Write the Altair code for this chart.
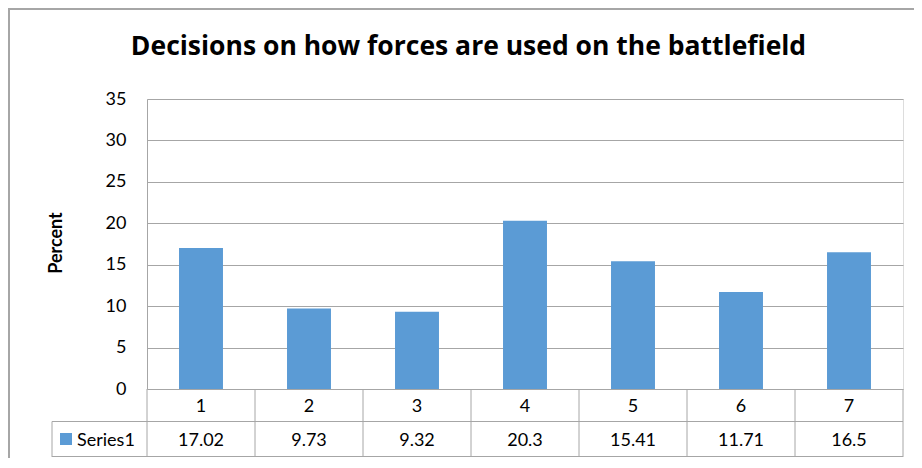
import altair as alt
import pandas as pd

categories = ["1", "2", "3", "4", "5", "6", "7"]
values = [17.02, 9.73, 9.32, 20.3, 15.41, 11.71, 16.5]
series_name = "Series1"
title_text = "Decisions on how forces are used on the battlefield"
y_title = "Percent"
y_ticks = [0, 5, 10, 15, 20, 25, 30, 35]

W, H = 756, 290
PAD_L, PAD_T = 139, 91
SVG_W, SVG_H = 906, 450
BAR = "#5B9BD5"
GRID = "#A6A6A6"
FONT = "Lato"
TITLE_FONT = "Open Sans"

df = pd.DataFrame({"cat": categories, "value": values,
                   "label": [str(v) for v in values]})
one = pd.DataFrame({"a": [0]})

x = alt.X("cat:N", sort=categories, axis=None,
          scale=alt.Scale(paddingInner=0.593, paddingOuter=0.2965))

bars = alt.Chart(df).mark_bar(color=BAR).encode(
    x=x,
    y=alt.Y("value:Q", scale=alt.Scale(domain=[0, 35], nice=False),
            axis=alt.Axis(values=y_ticks, title=None, grid=True, gridColor=GRID,
                          domainColor=GRID, ticks=False, tickSize=0, labelPadding=21,
                          labelFontSize=18, labelFont=FONT, labelColor="#000")),
)

cat_row = alt.Chart(df).mark_text(font=FONT, fontSize=18, baseline="alphabetic",
                                  align="center", color="#000").encode(
    x=x, y=alt.value(313), text="cat:N")
val_row = alt.Chart(df).mark_text(font=FONT, fontSize=18, baseline="alphabetic",
                                  align="center", color="#000").encode(
    x=x, y=alt.value(347), text="label:N")

layers = [bars, cat_row, val_row]

def rule(x1, x2, y1, y2, color=GRID, w=1):
    return alt.Chart(one).mark_rule(color=color, strokeWidth=w).encode(
        x=alt.value(x1), x2=alt.value(x2), y=alt.value(y1), y2=alt.value(y2))

step = W / len(categories)
for k in range(len(categories) + 1):
    xx = k * step
    layers.append(rule(xx, xx, 290, 358))
layers.append(rule(-95, W, 322.5, 322.5))
layers.append(rule(-95, W, 357.5, 357.5))
layers.append(rule(-95, -95, 322.5, 358))

# frame
layers.append(rule(-139, SVG_W - PAD_L, -90, -90, w=2))
layers.append(rule(-138, -138, -91, SVG_H - PAD_T, w=2))

# legend key + series name
layers.append(alt.Chart(one).mark_rect(color=BAR).encode(
    x=alt.value(-87), x2=alt.value(-75), y=alt.value(334), y2=alt.value(346)))
layers.append(alt.Chart(one).mark_text(font=FONT, fontSize=18, align="left",
                                       baseline="alphabetic", color="#000").encode(
    x=alt.value(-70), y=alt.value(347), text=alt.value(series_name)))

# titles
layers.append(alt.Chart(one).mark_text(font=TITLE_FONT, fontSize=26.5, fontWeight="bold",
                                       align="center", baseline="alphabetic",
                                       color="#000").encode(
    x=alt.value(321.5), y=alt.value(-44), text=alt.value(title_text)))
layers.append(alt.Chart(one).mark_text(font=FONT, fontSize=18, fontWeight="bold",
                                       align="center", baseline="alphabetic",
                                       angle=270, color="#000").encode(
    x=alt.value(-85), y=alt.value(144), text=alt.value(y_title)))

chart = alt.layer(*layers).properties(
    width=W, height=H,
    autosize=alt.AutoSizeParams(type="none"),
    padding={"left": PAD_L, "top": PAD_T, "right": SVG_W - PAD_L - W,
             "bottom": SVG_H - PAD_T - H},
).configure_view(stroke=None).configure(background="white")

chart.save("out.html", embed_options={"renderer": "svg", "actions": False})
